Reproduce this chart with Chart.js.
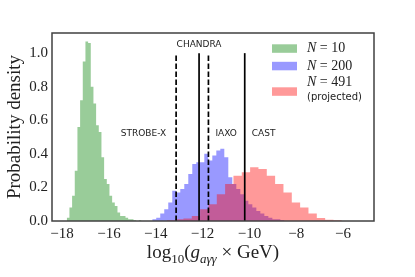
<!DOCTYPE html>
<html>
<head>
<meta charset="utf-8">
<script src="https://cdn.jsdelivr.net/npm/chart.js@4.4.0/dist/chart.umd.min.js"></script>
<style>
  html, body { margin: 0; padding: 0; background: #fff; }
</style>
</head>
<body>
<canvas id="chart" width="415" height="277"></canvas>
<script>
// Histograms (probability density)
const n10Start = -17.80
const n10Width = 0.114
const n10Density = [0.02, 0.08, 0.15, 0.30, 0.56, 0.72, 0.95, 1.07, 1.06, 0.80, 0.70, 0.57, 0.53, 0.38,
  0.25, 0.22, 0.15, 0.11, 0.09, 0.05, 0.03, 0.03, 0.02, 0.01, 0.01, 0.005, 0, 0.005]

const n200Start = -14.15
const n200Width = 0.171
const n200Density = [0.01, 0.02, 0.045, 0.07, 0.11, 0.18, 0.17, 0.19, 0.22, 0.28, 0.34, 0.35, 0.35,
  0.40, 0.36, 0.39, 0.42, 0.43, 0.38, 0.26, 0.22, 0.19, 0.16, 0.12, 0.10, 0.08, 0.06, 0.045,
  0.03, 0.02, 0.01, 0.01, 0.005]

const n491Start = -13.53
const n491Width = 0.356
const n491Density = [0.005, 0.01, 0.015, 0.03, 0.07, 0.10, 0.16, 0.22, 0.27, 0.29, 0.32, 0.31, 0.27,
  0.22, 0.17, 0.11, 0.08, 0.045, 0.018, 0.008, 0.004]

// Experimental limits
const limitNames = ["STROBE-X", "CHANDRA", "IAXO", "CAST"]
const limitValues = [-13.13, -12.15, -11.75, -10.2]
const limitDashed = [true, false, true, false]

const xTicks = [-18, -16, -14, -12, -10, -8, -6]
const yTicks = [0, 0.2, 0.4, 0.6, 0.8, 1.0]

const green = "rgba(0, 128, 0, 0.4)"
const blue = "rgba(0, 0, 255, 0.4)"
const red = "rgba(255, 0, 0, 0.4)"

const serif = "'Liberation Serif', serif"
const sans = "'DejaVu Sans', sans-serif"

// turn bins into points for a stepped, filled line
function stepPoints(start, width, values) {
  const pts = values.map((v, i) => ({ x: start + i * width, y: v }))
  pts.push({ x: start + values.length * width, y: 0 })
  return pts
}

function histSet(label, start, width, values, color, order) {
  return {
    label: label,
    data: stepPoints(start, width, values),
    stepped: true,
    fill: "origin",
    backgroundColor: color,
    borderColor: "transparent",
    borderWidth: 0,
    pointRadius: 0,
    order: order,
  }
}

const datasets = [
  histSet("N = 10", n10Start, n10Width, n10Density, green, 3),
  histSet("N = 200", n200Start, n200Width, n200Density, blue, 2),
  histSet("N = 491 (projected)", n491Start, n491Width, n491Density, red, 1),
]

limitNames.forEach((name, i) => {
  datasets.push({
    label: name,
    data: [{ x: limitValues[i], y: 0 }, { x: limitValues[i], y: 1 }],
    borderColor: "#000",
    borderWidth: 1.7,
    borderDash: limitDashed[i] ? [5.5, 2.5] : [],
    pointRadius: 0,
    fill: false,
    order: 0,
  })
})

// text, legend and frame
const annotations = {
  id: "annotations",
  afterDatasetsDraw(chart) {
    const { ctx, chartArea: a, scales } = chart
    const x = scales.x
    const y = scales.y
    ctx.save()

    ctx.strokeStyle = "#404040"
    ctx.lineWidth = 1.5
    ctx.strokeRect(a.left, a.top, a.right - a.left, a.bottom - a.top)

    // limit labels
    ctx.fillStyle = "#222"
    ctx.font = "9px " + sans
    ctx.textBaseline = "middle"
    limitNames.forEach((name, i) => {
      const px = x.getPixelForValue(limitValues[i])
      if (name === "CHANDRA") {
        ctx.textAlign = "center"
        ctx.fillText(name, px, y.getPixelForValue(1) - 8)
      } else if (name === "STROBE-X") {
        ctx.textAlign = "right"
        ctx.fillText(name, px - 10, y.getPixelForValue(0.52))
      } else {
        ctx.textAlign = "left"
        ctx.fillText(name, px + 7, y.getPixelForValue(0.52))
      }
    })

    // legend
    const lx = a.right - 102
    const tx = a.right - 67
    const rows = [
      { color: green, n: "10", cy: a.top + 15.5, ty: a.top + 15.5 },
      { color: blue, n: "200", cy: a.top + 33, ty: a.top + 33 },
      { color: red, n: "491", cy: a.top + 58.5, ty: a.top + 49 },
    ]
    rows.forEach((r) => {
      ctx.fillStyle = r.color
      ctx.fillRect(lx, r.cy - 4.2, 25, 8.5)
      ctx.fillStyle = "#222"
      ctx.textAlign = "left"
      ctx.font = "italic 14px " + serif
      ctx.fillText("N", tx, r.ty)
      const w = ctx.measureText("N").width
      ctx.font = "14px " + serif
      ctx.fillText(" = " + r.n, tx + w, r.ty)
    })
    ctx.font = "10px " + sans
    ctx.fillText("(projected)", tx, a.top + 64)

    // y axis title
    ctx.fillStyle = "#222"
    ctx.font = "19px " + serif
    ctx.save()
    ctx.translate(15, (a.top + a.bottom) / 2)
    ctx.rotate(-Math.PI / 2)
    ctx.textAlign = "center"
    ctx.fillText("Probability density", 0, 0)
    ctx.restore()

    // x axis title: log10(g_aγγ × GeV)
    const parts = [
      { t: "log", f: "19px " + serif, dy: 0 },
      { t: "10", f: "13px " + serif, dy: 5 },
      { t: "(", f: "19px " + serif, dy: 0 },
      { t: "g", f: "italic 19px " + serif, dy: 0 },
      { t: "aγγ", f: "italic 13px " + serif, dy: 5 },
      { t: " × GeV)", f: "19px " + serif, dy: 0 },
    ]
    let total = 0
    parts.forEach((p) => {
      ctx.font = p.f
      p.w = ctx.measureText(p.t).width
      total += p.w
    })
    let cx = (a.left + a.right) / 2 - total / 2
    const base = a.bottom + 37
    ctx.textAlign = "left"
    ctx.textBaseline = "alphabetic"
    parts.forEach((p) => {
      ctx.font = p.f
      ctx.fillText(p.t, cx, base + p.dy)
      cx += p.w
    })

    ctx.restore()
  },
}

new Chart(document.getElementById("chart"), {
  type: "line",
  data: { datasets: datasets },
  options: {
    responsive: false,
    animation: false,
    layout: { padding: { left: 0, top: 33, right: 41, bottom: 0 } },
    plugins: { legend: { display: false }, tooltip: { enabled: false } },
    scales: {
      x: {
        type: "linear",
        min: -18.43,
        max: -4.68,
        grid: { display: false, drawTicks: false },
        border: { display: false },
        afterBuildTicks: (s) => { s.ticks = xTicks.map((v) => ({ value: v })) },
        afterFit: (s) => { s.height = 56 },
        ticks: {
          padding: 4,
          color: "#222",
          font: { family: serif, size: 15 },
          maxRotation: 0,
          callback: (v) => (v < 0 ? "\u2212" : "") + Math.abs(v),
        },
      },
      y: {
        type: "linear",
        min: 0,
        max: 1.12,
        grid: { display: false, drawTicks: false },
        border: { display: false },
        afterBuildTicks: (s) => { s.ticks = yTicks.map((v) => ({ value: v })) },
        afterFit: (s) => { s.width = 52 },
        ticks: {
          padding: 4,
          color: "#222",
          font: { family: serif, size: 15 },
          callback: (v) => v.toFixed(1),
        },
      },
    },
  },
  plugins: [annotations],
})
</script>
</body>
</html>
